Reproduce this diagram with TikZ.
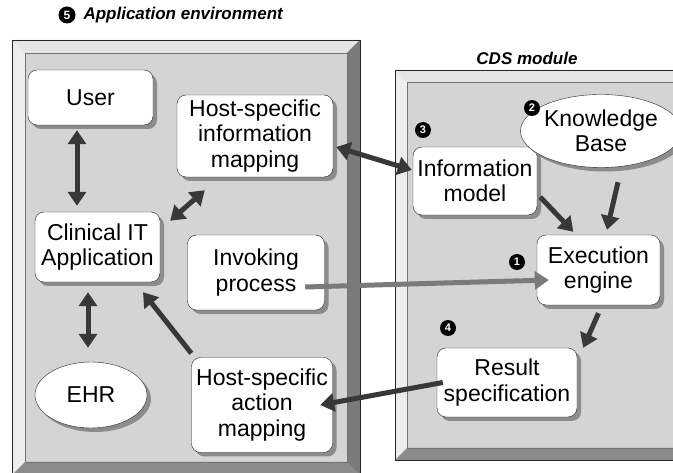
\documentclass[tikz,border=0pt]{standalone}
\usepackage{fontspec}
\setmainfont{Liberation Sans}
\usetikzlibrary{arrows.meta,shadows,shapes.geometric}

\tikzset{
  box/.style={draw=black!85, fill=white, rounded corners=9pt, align=center,
    inner sep=2pt, font=\fontsize{23}{25.5}\selectfont,
    drop shadow={shadow xshift=4pt, shadow yshift=-4pt, fill=black!45, opacity=1}},
  oval/.style={ellipse, draw=black!85, fill=white, align=center, inner sep=0pt,
    font=\fontsize{23}{25.5}\selectfont,
    drop shadow={shadow xshift=4pt, shadow yshift=-4pt, fill=black!45, opacity=1}},
  num/.style={circle, fill=black, text=white, inner sep=0pt, minimum size=16pt,
    font=\bfseries\fontsize{11}{11}\selectfont},
  heading/.style={font=\bfseries\itshape\fontsize{17}{17}\selectfont},
  link/.style={draw=black!78, line width=5pt, -{Triangle[length=14pt,width=18pt]}},
  dlink/.style={link, {Triangle[length=14pt,width=18pt]}-{Triangle[length=14pt,width=18pt]}}
}

\begin{document}
\begin{tikzpicture}[x=1pt,y=-1pt]
  \useasboundingbox (0,0) rectangle (673,473);
  \fill[white] (0,0) rectangle (673,473);
  \clip (0,0) rectangle (673,473);

  % Application environment panel (bevelled)
  \fill[black!17] (12,40) rectangle (360,485);
  \fill[black!10] (12,40) -- (360,40) -- (347,53) -- (25,53) -- cycle;
  \fill[black!7] (12,40) -- (25,53) -- (25,462) -- (12,475) -- cycle;
  \fill[black!52] (360,40) -- (360,485) -- (347,462) -- (347,53) -- cycle;
  \fill[black!45] (12,475) -- (25,462) -- (347,462) -- (360,475) -- (360,485) -- (12,485) -- cycle;
  \draw[black!55, line width=0.4pt] (25,53) rectangle (347,462);
  \draw[black!85, line width=0.8pt] (12,485) -- (12,40) -- (360,40) -- (360,485);

  % CDS module panel (bevelled)
  \fill[black!17] (395,70) rectangle (690,460);
  \fill[black!10] (395,70) -- (690,70) -- (678,82) -- (407,82) -- cycle;
  \fill[black!7] (395,70) -- (407,82) -- (407,448) -- (395,460) -- cycle;
  \fill[black!45] (395,460) -- (407,448) -- (678,448) -- (690,460) -- cycle;
  \draw[black!55, line width=0.4pt] (407,82) rectangle (678,448);
  \draw[black!85, line width=0.8pt] (395,460) rectangle (690,70);

  % headings
  \node[num, minimum size=17pt, font=\bfseries\fontsize{12}{12}\selectfont] (n5) at (67,15) {5};
  \node[heading, anchor=west] (apptitle) at (80,15) {Application environment};
  \node[heading] (cdstitle) at (527,58) {CDS module};

  % application side
  \node[box, minimum width=125pt, minimum height=55pt] (user) at (90.5,97.5) {User};
  \node[box, minimum width=156pt, minimum height=82pt] (hinfo) at (255,136)
    {Host-specific\\information\\mapping};
  \node[box, minimum width=125pt, minimum height=70pt] (clin) at (97.5,247)
    {Clinical IT\\Application};
  \node[box, minimum width=137pt, minimum height=75pt] (invoke) at (256,272.5)
    {Invoking\\process};
  \node[oval, minimum width=112pt, minimum height=66pt] (ehr) at (91,395) {EHR};
  \node[box, minimum width=141pt, minimum height=95pt] (hact) at (262,405)
    {Host-specific\\action\\mapping};

  % CDS side
  \node[box, minimum width=124pt, minimum height=68pt] (infom) at (475,181)
    {Information\\model};
  \node[oval, minimum width=132pt, minimum height=73pt] (kb) at (601,131)
    {Knowledge\\Base};
  \node[box, minimum width=123pt, minimum height=70pt] (exec) at (598.5,270)
    {Execution\\engine};
  \node[box, minimum width=140pt, minimum height=69pt] (result) at (507,382.5)
    {Result\\specification};

  % component numbers
  \node[num] (n1) at (517,262) {1};
  \node[num] (n2) at (532,108) {2};
  \node[num] (n3) at (423,130) {3};
  \node[num] (n4) at (448,328) {4};

  % connectors
  \draw[dlink] ([xshift=-13.5pt,yshift=-5pt]user.south) -- ([xshift=-20.5pt,yshift=6pt]clin.north);
  \draw[dlink] ([xshift=-9.5pt,yshift=-10pt]clin.south) -- ([xshift=-3pt,yshift=14pt]ehr.north);
  \draw[dlink] ([xshift=10pt,yshift=-9pt]clin.north east) -- ([xshift=28pt,yshift=-13pt]hinfo.south west);
  \draw[link] ([yshift=4pt]hact.north west) -- ([xshift=45.5pt,yshift=-10pt]clin.south);
  \draw[dlink] ([xshift=3pt,yshift=-11pt]hinfo.east) -- ([xshift=-1pt,yshift=11pt]infom.west);
  \draw[link] ([xshift=3pt,yshift=-16pt]infom.east) -- ([xshift=36.5pt,yshift=3pt]exec.north west);
  \draw[link] ([xshift=17pt,yshift=-14.5pt]kb.south) -- ([xshift=8.5pt,yshift=5pt]exec.north);
  \draw[link] ([yshift=-8pt]exec.south) -- ([xshift=6pt]result.north east);
  \draw[link, draw=black!52] ([xshift=-19.5pt,yshift=-14.5pt]invoke.east) -- ([xshift=12pt,yshift=-10pt]exec.west);
  \draw[link] ([xshift=6pt]result.west) -- ([xshift=-12.5pt]hact.east);

\end{tikzpicture}
\end{document}
